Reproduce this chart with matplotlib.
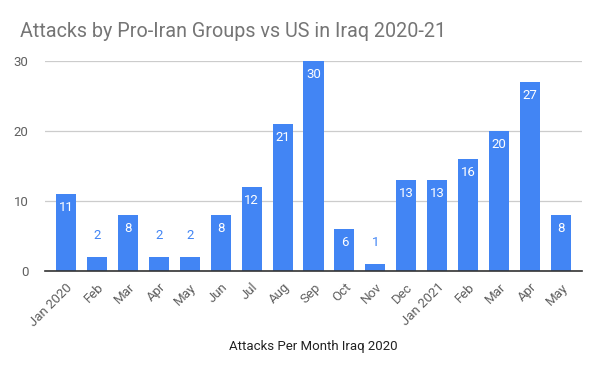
import numpy as np
import matplotlib.pyplot as plt

months = ["Jan 2020", "Feb", "Mar", "Apr", "May", "Jun", "Jul", "Aug", "Sep",
          "Oct", "Nov", "Dec", "Jan 2021", "Feb", "Mar", "Apr", "May"]
attacks = [11, 2, 8, 2, 2, 8, 12, 21, 30, 6, 1, 13, 13, 16, 20, 27, 8]

plt.rcParams['font.family'] = ['Roboto', 'DejaVu Sans']

fig = plt.figure(figsize=(6, 3.71), dpi=100)
ax = fig.add_axes([0.075, 0.2695, 0.895, 0.566])

x = np.arange(len(months))
bars = ax.bar(x, attacks, width=0.65, color="#4285f4", zorder=3)

# labels: white inside tall bars, blue above short ones
for xi, v in zip(x, attacks):
    if v >= 5:
        ax.annotate(str(v), (xi, v), xytext=(0, -5), textcoords="offset points",
                    ha="center", va="top", color="white", fontsize=9.5, zorder=4)
    else:
        ax.annotate(str(v), (xi, v), xytext=(0, 11), textcoords="offset points",
                    ha="center", va="bottom", color="#4285f4", fontsize=9.5, zorder=4)

ax.set_xlim(-0.68, len(months) - 0.32)
ax.set_ylim(0, 30)
ax.set_yticks([0, 10, 20, 30])
ax.set_xticks(x)
ax.set_xticklabels(months, rotation=45, ha="right", rotation_mode="anchor")
ax.tick_params(axis="both", length=0, labelsize=9.5, labelcolor="#5f5f5f")
ax.tick_params(axis="x", pad=7)
ax.tick_params(axis="y", pad=12)

ax.grid(axis="y", color="#cccccc", linewidth=0.9, zorder=0)
for s in ["top", "right", "left"]:
    ax.spines[s].set_visible(False)
ax.spines["bottom"].set_color("#333333")
ax.spines["bottom"].set_linewidth(1.2)
ax.spines["bottom"].set_zorder(5)

ax.set_xlabel("Attacks Per Month Iraq 2020", fontsize=9.5, color="#222222", labelpad=8)
fig.text(0.033, 0.915, "Attacks by Pro-Iran Groups vs US in Iraq 2020-21",
         fontsize=14.2, color="#757575", va="center", ha="left")

fig.savefig("out.png", dpi=100)
